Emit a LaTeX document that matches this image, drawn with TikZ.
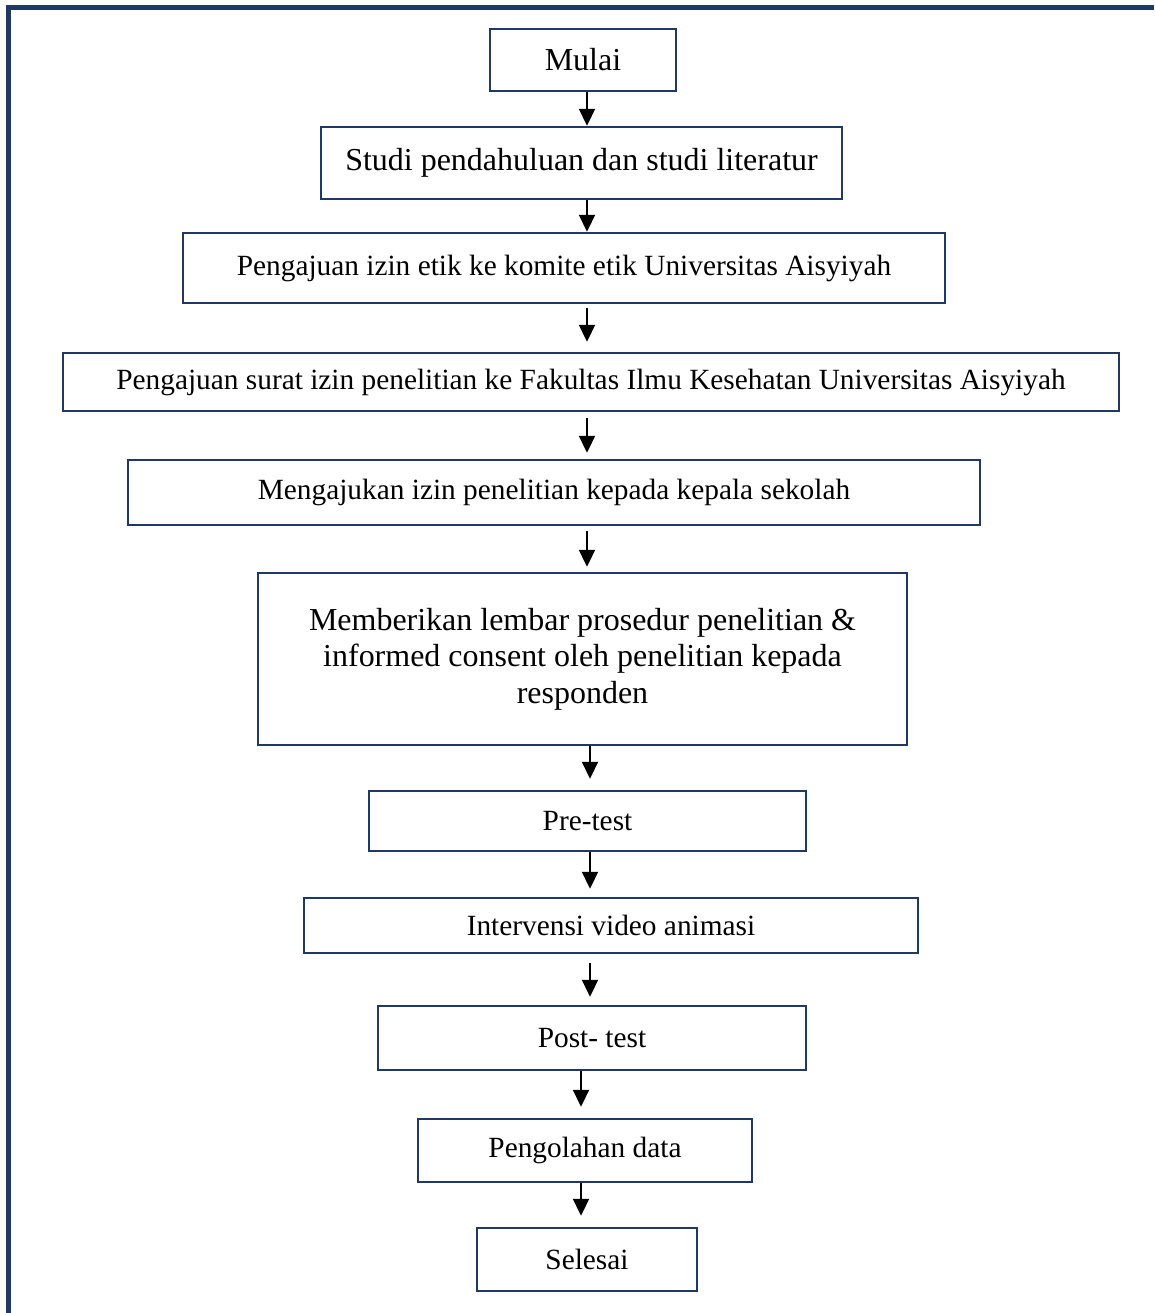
\documentclass[tikz,border=0pt]{standalone}
\usepackage{fontspec}
\setmainfont{Liberation Serif}
\usepackage{tikz}
\usetikzlibrary{positioning,arrows.meta,calc}
\definecolor{navy}{HTML}{203864}

\begin{document}
\begin{tikzpicture}[x=0.02cm, y=-0.02cm]
        \tikzset{
            stage/.style={draw=navy, line width=1.4pt, inner sep=0pt, align=center,
                font=\fontsize{16.7}{19}\selectfont},
            bigstage/.style={stage, font=\fontsize{18.2}{20.8}\selectfont},
            flow/.style={-{Triangle[length=0.34cm, width=0.32cm]}, line width=1.15pt},
        }

        \useasboundingbox (0,0) rectangle (1154,1313);
        % outer frame, open at the right and bottom
        \draw[navy, line width=2.3pt] (8.5,1313) |- (1154,7.5);

        \node[bigstage, minimum width=3.72cm, minimum height=1.24cm] (mulai) at (583,60) {Mulai};
        \node[bigstage, minimum width=10.42cm, minimum height=1.44cm] (studi) at (581.5,163) {Studi pendahuluan dan studi literatur};
        \node[stage, minimum width=15.24cm, minimum height=1.40cm] (etik) at (564,268) {Pengajuan izin etik ke komite etik Universitas Aisyiyah};
        \node[stage, minimum width=21.12cm, minimum height=1.16cm] (surat) at (591,382) {Pengajuan surat izin penelitian ke Fakultas Ilmu Kesehatan Universitas Aisyiyah};
        \node[stage, minimum width=17.04cm, minimum height=1.30cm] (sekolah) at (554,492.5) {Mengajukan izin penelitian kepada kepala sekolah};
        \node[bigstage, minimum width=12.98cm, minimum height=3.44cm] (consent) at (582.5,659)
            {Memberikan lembar prosedur penelitian \&\\ informed consent oleh penelitian kepada\\ responden};
        \node[stage, minimum width=8.74cm, minimum height=1.20cm] (pretest) at (587.5,821) {Pre-test};
        \node[stage, minimum width=12.28cm, minimum height=1.10cm] (video) at (611,925.5) {Intervensi video animasi};
        \node[stage, minimum width=8.56cm, minimum height=1.28cm] (posttest) at (592,1038) {Post- test};
        \node[stage, minimum width=6.68cm, minimum height=1.26cm] (olah) at (585,1150.5) {Pengolahan data};
        \node[stage, minimum width=4.40cm, minimum height=1.26cm] (selesai) at (587,1259.5) {Selesai};

        % vertical lines the arrows run on
        \coordinate (lineA) at (587,0);
        \coordinate (lineB) at (590,0);
        \coordinate (lineC) at (581,0);

        \draw[flow] (mulai.south -| lineA) -- (studi.north -| lineA);
        \draw[flow] (studi.south -| lineA) -- (etik.north -| lineA);
        \draw[flow, shorten <=0.08cm, shorten >=0.2cm] (etik.south -| lineA) -- (surat.north -| lineA);
        \draw[flow, shorten <=0.12cm, shorten >=0.12cm] (surat.south -| lineA) -- (sekolah.north -| lineA);
        \draw[flow, shorten <=0.1cm, shorten >=0.1cm] (sekolah.south -| lineA) -- (consent.north -| lineA);
        \draw[flow, shorten >=0.22cm] (consent.south -| lineB) -- (pretest.north -| lineB);
        \draw[flow, shorten >=0.16cm] (pretest.south -| lineB) -- (video.north -| lineB);
        \draw[flow, shorten <=0.18cm, shorten >=0.16cm] (video.south -| lineB) -- (posttest.north -| lineB);
        \draw[flow, shorten >=0.22cm] (posttest.south -| lineC) -- (olah.north -| lineC);
        \draw[flow, shorten >=0.22cm] (olah.south -| lineC) -- (selesai.north -| lineC);
\end{tikzpicture}
\end{document}
